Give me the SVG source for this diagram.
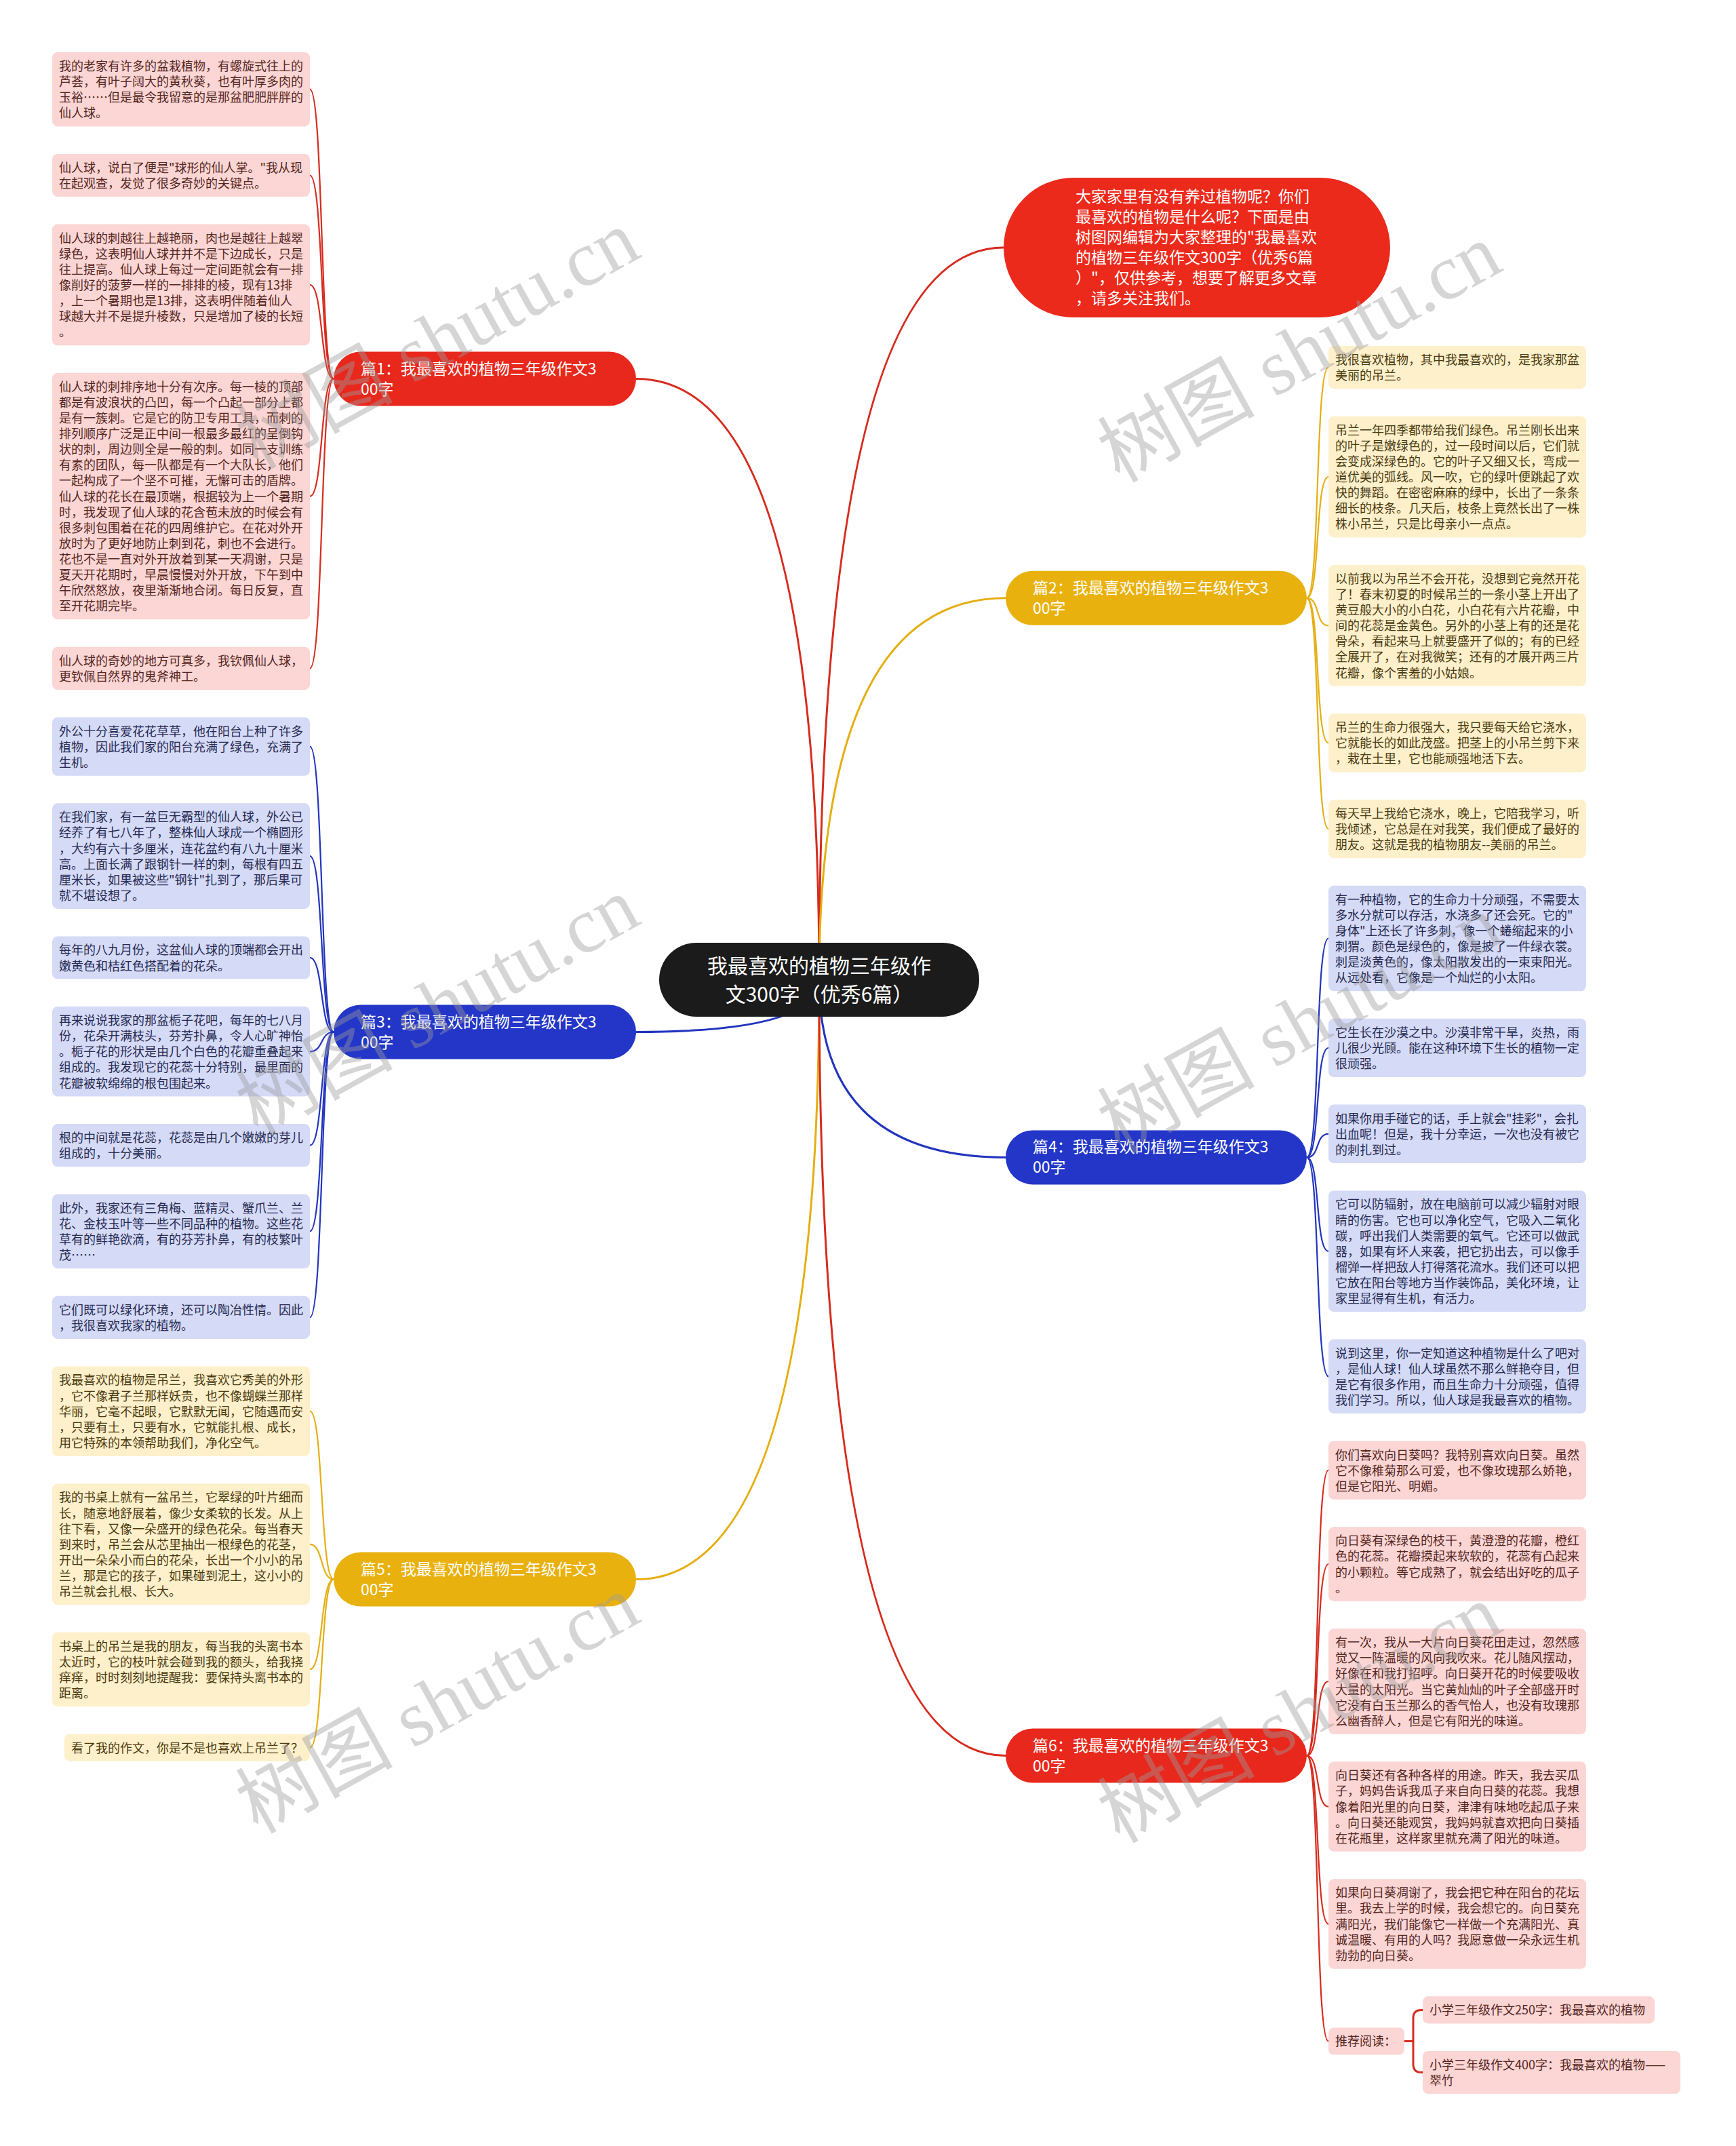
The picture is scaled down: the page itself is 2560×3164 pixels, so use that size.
<svg xmlns="http://www.w3.org/2000/svg" width="2560" height="3164" viewBox="0 0 2560 3164">
<style>
text{font-family:"Noto Sans CJK SC","Noto Sans",sans-serif;}
.leaf{font-size:18px;}
.lr{fill:#fbd6d4;} .lb{fill:#d5daf6;} .lg{fill:#fdf0cb;}
.tr{fill:#55261f;} .tb{fill:#262a52;} .tg{fill:#4a3a10;}
.br{fill:#e8281c;} .bb{fill:#2336c8;} .bg{fill:#e9b10e;}
.bt{font-size:23px;fill:#ffffff;}
.btg{font-size:23px;fill:#ffffff;}
.cr{fill:none;stroke:#d62b1e;} .cb{fill:none;stroke:#2234be;} .cg{fill:none;stroke:#e5ae12;}
.main{stroke-width:3;} .sub{stroke-width:2.2;}
.wm{font-family:"Liberation Serif","Noto Sans CJK SC",serif;font-size:116px;fill:#9a9a9a;fill-opacity:0.42;}
</style>

<g id="connectors">
  <path class="cr main" d="M1208 1444.5 Q1208 365 1480 365"/>
  <path class="cr main" d="M1208 1444.5 Q1208 558.5 938 558.5"/>
  <path class="cg main" d="M1208 1444.5 Q1208 881.8 1483 881.8"/>
  <path class="cb main" d="M1208 1444.5 Q1208 1521.5 938 1521.5"/>
  <path class="cb main" d="M1208 1444.5 Q1208 1706.4 1483 1706.4"/>
  <path class="cg main" d="M1208 1444.5 Q1208 2328.6 938 2328.6"/>
  <path class="cr main" d="M1208 1444.5 Q1208 2588.5 1483 2588.5"/>
  <path class="cr sub" d="M457 131.7 C477 131.7 472 558.5 492 558.5"/>
  <path class="cr sub" d="M457 258.5 C477 258.5 472 558.5 492 558.5"/>
  <path class="cr sub" d="M457 420 C477 420 472 558.5 492 558.5"/>
  <path class="cr sub" d="M457 731.6 C477 731.6 472 558.5 492 558.5"/>
  <path class="cr sub" d="M457 985.4 C477 985.4 472 558.5 492 558.5"/>
  <path class="cb sub" d="M457 1100.7 C477 1100.7 472 1521.5 492 1521.5"/>
  <path class="cb sub" d="M457 1262.1 C477 1262.1 472 1521.5 492 1521.5"/>
  <path class="cb sub" d="M457 1412 C477 1412 472 1521.5 492 1521.5"/>
  <path class="cb sub" d="M457 1550.4 C477 1550.4 472 1521.5 492 1521.5"/>
  <path class="cb sub" d="M457 1688.7 C477 1688.7 472 1521.5 492 1521.5"/>
  <path class="cb sub" d="M457 1815.5 C477 1815.5 472 1521.5 492 1521.5"/>
  <path class="cb sub" d="M457 1942.3 C477 1942.3 472 1521.5 492 1521.5"/>
  <path class="cg sub" d="M457 2080.7 C477 2080.7 472 2328.6 492 2328.6"/>
  <path class="cg sub" d="M457 2276.8 C477 2276.8 472 2328.6 492 2328.6"/>
  <path class="cg sub" d="M457 2461.3 C477 2461.3 472 2328.6 492 2328.6"/>
  <path class="cg sub" d="M457 2576.6 C477 2576.6 472 2328.6 492 2328.6"/>
  <path class="cg sub" d="M1927 881.8 C1947 881.8 1939 541.6 1959 541.6"/>
  <path class="cg sub" d="M1927 881.8 C1947 881.8 1939 703.1 1959 703.1"/>
  <path class="cg sub" d="M1927 881.8 C1947 881.8 1939 922.3 1959 922.3"/>
  <path class="cg sub" d="M1927 881.8 C1947 881.8 1939 1095.3 1959 1095.3"/>
  <path class="cg sub" d="M1927 881.8 C1947 881.8 1939 1222.1 1959 1222.1"/>
  <path class="cb sub" d="M1927 1706.4 C1947 1706.4 1939 1383.5 1959 1383.5"/>
  <path class="cb sub" d="M1927 1706.4 C1947 1706.4 1939 1545 1959 1545"/>
  <path class="cb sub" d="M1927 1706.4 C1947 1706.4 1939 1671.8 1959 1671.8"/>
  <path class="cb sub" d="M1927 1706.4 C1947 1706.4 1939 1844.8 1959 1844.8"/>
  <path class="cb sub" d="M1927 1706.4 C1947 1706.4 1939 2029.3 1959 2029.3"/>
  <path class="cr sub" d="M1927 2588.5 C1947 2588.5 1939 2167.7 1959 2167.7"/>
  <path class="cr sub" d="M1927 2588.5 C1947 2588.5 1939 2306 1959 2306"/>
  <path class="cr sub" d="M1927 2588.5 C1947 2588.5 1939 2479 1959 2479"/>
  <path class="cr sub" d="M1927 2588.5 C1947 2588.5 1939 2663.6 1959 2663.6"/>
  <path class="cr sub" d="M1927 2588.5 C1947 2588.5 1939 2836.6 1959 2836.6"/>
  <path class="cr sub" d="M1927 2588.5 C1947 2588.5 1939 3009.4 1959 3009.4"/>
  <path class="cr main" d="M2071 3009.4 H2084 M2084 3009.4 V2975.4 Q2084 2963.4 2096 2963.4 H2098 M2084 3009.4 V3043.5 Q2084 3055.5 2096 3055.5 H2098"/>
</g>

<g id="root">
  <rect x="972" y="1390" width="472" height="109" rx="54.5" fill="#1b1b1b"/>
  <text x="1208" y="1434.5" text-anchor="middle" font-size="30" fill="#ffffff"><tspan x="1208">我最喜欢的植物三年级作</tspan><tspan x="1208" dy="42">文300字（优秀6篇）</tspan></text>
</g>

<g id="intro">
  <rect x="1480" y="262" width="570" height="206" rx="103" fill="#ec2a1c"/>
  <text x="1586" y="298" class="bt"><tspan x="1586">大家家里有没有养过植物呢？你们</tspan><tspan x="1586" dy="30">最喜欢的植物是什么呢？下面是由</tspan><tspan x="1586" dy="30">树图网编辑为大家整理的"我最喜欢</tspan><tspan x="1586" dy="30">的植物三年级作文300字（优秀6篇</tspan><tspan x="1586" dy="30">）"，仅供参考，想要了解更多文章</tspan><tspan x="1586" dy="30">，请多关注我们。</tspan></text>
</g>

<g id="branch1">
  <rect class="br" x="492" y="518.5" width="446" height="80" rx="40"/>
  <text x="532" y="551.5" class="bt"><tspan x="532">篇1：我最喜欢的植物三年级作文3</tspan><tspan x="532" dy="30">00字</tspan></text>
</g>
<g id="branch3">
  <rect class="bb" x="492" y="1481.5" width="446" height="80" rx="40"/>
  <text x="532" y="1514.5" class="bt"><tspan x="532">篇3：我最喜欢的植物三年级作文3</tspan><tspan x="532" dy="30">00字</tspan></text>
</g>
<g id="branch5">
  <rect class="bg" x="492" y="2288.6" width="446" height="80" rx="40"/>
  <text x="532" y="2321.6" class="btg"><tspan x="532">篇5：我最喜欢的植物三年级作文3</tspan><tspan x="532" dy="30">00字</tspan></text>
</g>
<g id="branch2">
  <rect class="bg" x="1483" y="841.8" width="444" height="80" rx="40"/>
  <text x="1523" y="874.8" class="btg"><tspan x="1523">篇2：我最喜欢的植物三年级作文3</tspan><tspan x="1523" dy="30">00字</tspan></text>
</g>
<g id="branch4">
  <rect class="bb" x="1483" y="1666.4" width="444" height="80" rx="40"/>
  <text x="1523" y="1699.4" class="bt"><tspan x="1523">篇4：我最喜欢的植物三年级作文3</tspan><tspan x="1523" dy="30">00字</tspan></text>
</g>
<g id="branch6">
  <rect class="br" x="1483" y="2548.5" width="444" height="80" rx="40"/>
  <text x="1523" y="2581.5" class="bt"><tspan x="1523">篇6：我最喜欢的植物三年级作文3</tspan><tspan x="1523" dy="30">00字</tspan></text>
</g>

<g id="l1-1"><rect class="lr" x="77" y="77" width="380" height="109.4" rx="8"/>
<text class="leaf tr" x="87" y="104"><tspan x="87">我的老家有许多的盆栽植物，有螺旋式往上的</tspan><tspan x="87" dy="23.1">芦荟，有叶子阔大的黄秋葵，也有叶厚多肉的</tspan><tspan x="87" dy="23.1">玉裕……但是最令我留意的是那盆肥肥胖胖的</tspan><tspan x="87" dy="23.1">仙人球。</tspan></text></g>
<g id="l1-2"><rect class="lr" x="77" y="226.9" width="380" height="63.2" rx="8"/>
<text class="leaf tr" x="87" y="253.9"><tspan x="87">仙人球，说白了便是"球形的仙人掌。"我从现</tspan><tspan x="87" dy="23.1">在起观查，发觉了很多奇妙的关键点。</tspan></text></g>
<g id="l1-3"><rect class="lr" x="77" y="330.6" width="380" height="178.7" rx="8"/>
<text class="leaf tr" x="87" y="357.6"><tspan x="87">仙人球的刺越往上越艳丽，肉也是越往上越翠</tspan><tspan x="87" dy="23.1">绿色，这表明仙人球并并不是下边成长，只是</tspan><tspan x="87" dy="23.1">往上提高。仙人球上每过一定间距就会有一排</tspan><tspan x="87" dy="23.1">像削好的菠萝一样的一排排的棱，现有13排</tspan><tspan x="87" dy="23.1">，上一个暑期也是13排，这表明伴随着仙人</tspan><tspan x="87" dy="23.1">球越大并不是提升棱数，只是增加了棱的长短</tspan><tspan x="87" dy="23.1">。</tspan></text></g>
<g id="l1-4"><rect class="lr" x="77" y="549.8" width="380" height="363.5" rx="8"/>
<text class="leaf tr" x="87" y="576.8"><tspan x="87">仙人球的刺排序地十分有次序。每一棱的顶部</tspan><tspan x="87" dy="23.1">都是有波浪状的凸凹，每一个凸起一部分上都</tspan><tspan x="87" dy="23.1">是有一簇刺。它是它的防卫专用工具，而刺的</tspan><tspan x="87" dy="23.1">排列顺序广泛是正中间一根最多最红的呈倒钩</tspan><tspan x="87" dy="23.1">状的刺，周边则全是一般的刺。如同一支训练</tspan><tspan x="87" dy="23.1">有素的团队，每一队都是有一个大队长，他们</tspan><tspan x="87" dy="23.1">一起构成了一个坚不可摧，无懈可击的盾牌。</tspan><tspan x="87" dy="23.1">仙人球的花长在最顶端，根据较为上一个暑期</tspan><tspan x="87" dy="23.1">时，我发现了仙人球的花含苞未放的时候会有</tspan><tspan x="87" dy="23.1">很多刺包围着在花的四周维护它。在花对外开</tspan><tspan x="87" dy="23.1">放时为了更好地防止刺到花，刺也不会进行。</tspan><tspan x="87" dy="23.1">花也不是一直对外开放着到某一天凋谢，只是</tspan><tspan x="87" dy="23.1">夏天开花期时，早晨慢慢对外开放，下午到中</tspan><tspan x="87" dy="23.1">午欣然怒放，夜里渐渐地合闭。每日反复，直</tspan><tspan x="87" dy="23.1">至开花期完毕。</tspan></text></g>
<g id="l1-5"><rect class="lr" x="77" y="953.8" width="380" height="63.2" rx="8"/>
<text class="leaf tr" x="87" y="980.8"><tspan x="87">仙人球的奇妙的地方可真多，我钦佩仙人球，</tspan><tspan x="87" dy="23.1">更钦佩自然界的鬼斧神工。</tspan></text></g>

<g id="l3-1"><rect class="lb" x="77" y="1057.5" width="380" height="86.3" rx="8"/>
<text class="leaf tb" x="87" y="1084.5"><tspan x="87">外公十分喜爱花花草草，他在阳台上种了许多</tspan><tspan x="87" dy="23.1">植物，因此我们家的阳台充满了绿色，充满了</tspan><tspan x="87" dy="23.1">生机。</tspan></text></g>
<g id="l3-2"><rect class="lb" x="77" y="1184.3" width="380" height="155.6" rx="8"/>
<text class="leaf tb" x="87" y="1211.3"><tspan x="87">在我们家，有一盆巨无霸型的仙人球，外公已</tspan><tspan x="87" dy="23.1">经养了有七八年了，整株仙人球成一个椭圆形</tspan><tspan x="87" dy="23.1">，大约有六十多厘米，连花盆约有八九十厘米</tspan><tspan x="87" dy="23.1">高。上面长满了跟钢针一样的刺，每根有四五</tspan><tspan x="87" dy="23.1">厘米长，如果被这些"钢针"扎到了，那后果可</tspan><tspan x="87" dy="23.1">就不堪设想了。</tspan></text></g>
<g id="l3-3"><rect class="lb" x="77" y="1380.4" width="380" height="63.2" rx="8"/>
<text class="leaf tb" x="87" y="1407.4"><tspan x="87">每年的八九月份，这盆仙人球的顶端都会开出</tspan><tspan x="87" dy="23.1">嫩黄色和桔红色搭配着的花朵。</tspan></text></g>
<g id="l3-4"><rect class="lb" x="77" y="1484.1" width="380" height="132.5" rx="8"/>
<text class="leaf tb" x="87" y="1511.1"><tspan x="87">再来说说我家的那盆栀子花吧，每年的七八月</tspan><tspan x="87" dy="23.1">份，花朵开满枝头，芬芳扑鼻，令人心旷神怡</tspan><tspan x="87" dy="23.1">。栀子花的形状是由几个白色的花瓣重叠起来</tspan><tspan x="87" dy="23.1">组成的。我发现它的花蕊十分特别，最里面的</tspan><tspan x="87" dy="23.1">花瓣被软绵绵的根包围起来。</tspan></text></g>
<g id="l3-5"><rect class="lb" x="77" y="1657.1" width="380" height="63.2" rx="8"/>
<text class="leaf tb" x="87" y="1684.1"><tspan x="87">根的中间就是花蕊，花蕊是由几个嫩嫩的芽儿</tspan><tspan x="87" dy="23.1">组成的，十分美丽。</tspan></text></g>
<g id="l3-6"><rect class="lb" x="77" y="1760.8" width="380" height="109.4" rx="8"/>
<text class="leaf tb" x="87" y="1787.8"><tspan x="87">此外，我家还有三角梅、蓝精灵、蟹爪兰、兰</tspan><tspan x="87" dy="23.1">花、金枝玉叶等一些不同品种的植物。这些花</tspan><tspan x="87" dy="23.1">草有的鲜艳欲滴，有的芬芳扑鼻，有的枝繁叶</tspan><tspan x="87" dy="23.1">茂……</tspan></text></g>
<g id="l3-7"><rect class="lb" x="77" y="1910.7" width="380" height="63.2" rx="8"/>
<text class="leaf tb" x="87" y="1937.7"><tspan x="87">它们既可以绿化环境，还可以陶冶性情。因此</tspan><tspan x="87" dy="23.1">，我很喜欢我家的植物。</tspan></text></g>

<g id="l5-1"><rect class="lg" x="77" y="2014.4" width="380" height="132.5" rx="8"/>
<text class="leaf tg" x="87" y="2041.4"><tspan x="87">我最喜欢的植物是吊兰，我喜欢它秀美的外形</tspan><tspan x="87" dy="23.1">，它不像君子兰那样妖贵，也不像蝴蝶兰那样</tspan><tspan x="87" dy="23.1">华丽，它毫不起眼，它默默无闻，它随遇而安</tspan><tspan x="87" dy="23.1">，只要有土，只要有水，它就能扎根、成长，</tspan><tspan x="87" dy="23.1">用它特殊的本领帮助我们，净化空气。</tspan></text></g>
<g id="l5-2"><rect class="lg" x="77" y="2187.4" width="380" height="178.7" rx="8"/>
<text class="leaf tg" x="87" y="2214.4"><tspan x="87">我的书桌上就有一盆吊兰，它翠绿的叶片细而</tspan><tspan x="87" dy="23.1">长，随意地舒展着，像少女柔软的长发。从上</tspan><tspan x="87" dy="23.1">往下看，又像一朵盛开的绿色花朵。每当春天</tspan><tspan x="87" dy="23.1">到来时，吊兰会从芯里抽出一根绿色的花茎，</tspan><tspan x="87" dy="23.1">开出一朵朵小而白的花朵，长出一个小小的吊</tspan><tspan x="87" dy="23.1">兰，那是它的孩子，如果碰到泥土，这小小的</tspan><tspan x="87" dy="23.1">吊兰就会扎根、长大。</tspan></text></g>
<g id="l5-3"><rect class="lg" x="77" y="2406.6" width="380" height="109.4" rx="8"/>
<text class="leaf tg" x="87" y="2433.6"><tspan x="87">书桌上的吊兰是我的朋友，每当我的头离书本</tspan><tspan x="87" dy="23.1">太近时，它的枝叶就会碰到我的额头，给我挠</tspan><tspan x="87" dy="23.1">痒痒，时时刻刻地提醒我：要保持头离书本的</tspan><tspan x="87" dy="23.1">距离。</tspan></text></g>
<g id="l5-4"><rect class="lg" x="95" y="2556.5" width="362" height="40.1" rx="8"/>
<text class="leaf tg" x="105" y="2583.5">看了我的作文，你是不是也喜欢上吊兰了？</text></g>

<g id="r2-1"><rect class="lg" x="1959" y="510" width="380" height="63.2" rx="8"/>
<text class="leaf tg" x="1969" y="537"><tspan x="1969">我很喜欢植物，其中我最喜欢的，是我家那盆</tspan><tspan x="1969" dy="23.1">美丽的吊兰。</tspan></text></g>
<g id="r2-2"><rect class="lg" x="1959" y="613.7" width="380" height="178.7" rx="8"/>
<text class="leaf tg" x="1969" y="640.7"><tspan x="1969">吊兰一年四季都带给我们绿色。吊兰刚长出来</tspan><tspan x="1969" dy="23.1">的叶子是嫩绿色的，过一段时间以后，它们就</tspan><tspan x="1969" dy="23.1">会变成深绿色的。它的叶子又细又长，弯成一</tspan><tspan x="1969" dy="23.1">道优美的弧线。风一吹，它的绿叶便跳起了欢</tspan><tspan x="1969" dy="23.1">快的舞蹈。在密密麻麻的绿中，长出了一条条</tspan><tspan x="1969" dy="23.1">细长的枝条。几天后，枝条上竟然长出了一株</tspan><tspan x="1969" dy="23.1">株小吊兰，只是比母亲小一点点。</tspan></text></g>
<g id="r2-3"><rect class="lg" x="1959" y="832.9" width="380" height="178.7" rx="8"/>
<text class="leaf tg" x="1969" y="859.9"><tspan x="1969">以前我以为吊兰不会开花，没想到它竟然开花</tspan><tspan x="1969" dy="23.1">了！春末初夏的时候吊兰的一条小茎上开出了</tspan><tspan x="1969" dy="23.1">黄豆般大小的小白花，小白花有六片花瓣，中</tspan><tspan x="1969" dy="23.1">间的花蕊是金黄色。另外的小茎上有的还是花</tspan><tspan x="1969" dy="23.1">骨朵，看起来马上就要盛开了似的；有的已经</tspan><tspan x="1969" dy="23.1">全展开了，在对我微笑；还有的才展开两三片</tspan><tspan x="1969" dy="23.1">花瓣，像个害羞的小姑娘。</tspan></text></g>
<g id="r2-4"><rect class="lg" x="1959" y="1052.1" width="380" height="86.3" rx="8"/>
<text class="leaf tg" x="1969" y="1079.1"><tspan x="1969">吊兰的生命力很强大，我只要每天给它浇水，</tspan><tspan x="1969" dy="23.1">它就能长的如此茂盛。把茎上的小吊兰剪下来</tspan><tspan x="1969" dy="23.1">，栽在土里，它也能顽强地活下去。</tspan></text></g>
<g id="r2-5"><rect class="lg" x="1959" y="1178.9" width="380" height="86.3" rx="8"/>
<text class="leaf tg" x="1969" y="1205.9"><tspan x="1969">每天早上我给它浇水，晚上，它陪我学习，听</tspan><tspan x="1969" dy="23.1">我倾述，它总是在对我笑，我们便成了最好的</tspan><tspan x="1969" dy="23.1">朋友。这就是我的植物朋友--美丽的吊兰。</tspan></text></g>

<g id="r4-1"><rect class="lb" x="1959" y="1305.7" width="380" height="155.6" rx="8"/>
<text class="leaf tb" x="1969" y="1332.7"><tspan x="1969">有一种植物，它的生命力十分顽强，不需要太</tspan><tspan x="1969" dy="23.1">多水分就可以存活，水浇多了还会死。它的"</tspan><tspan x="1969" dy="23.1">身体"上还长了许多刺，像一个蜷缩起来的小</tspan><tspan x="1969" dy="23.1">刺猬。颜色是绿色的，像是披了一件绿衣裳。</tspan><tspan x="1969" dy="23.1">刺是淡黄色的，像太阳散发出的一束束阳光。</tspan><tspan x="1969" dy="23.1">从远处看，它像是一个灿烂的小太阳。</tspan></text></g>
<g id="r4-2"><rect class="lb" x="1959" y="1501.8" width="380" height="86.3" rx="8"/>
<text class="leaf tb" x="1969" y="1528.8"><tspan x="1969">它生长在沙漠之中。沙漠非常干旱，炎热，雨</tspan><tspan x="1969" dy="23.1">儿很少光顾。能在这种环境下生长的植物一定</tspan><tspan x="1969" dy="23.1">很顽强。</tspan></text></g>
<g id="r4-3"><rect class="lb" x="1959" y="1628.6" width="380" height="86.3" rx="8"/>
<text class="leaf tb" x="1969" y="1655.6"><tspan x="1969">如果你用手碰它的话，手上就会"挂彩"，会扎</tspan><tspan x="1969" dy="23.1">出血呢！但是，我十分幸运，一次也没有被它</tspan><tspan x="1969" dy="23.1">的刺扎到过。</tspan></text></g>
<g id="r4-4"><rect class="lb" x="1959" y="1755.4" width="380" height="178.7" rx="8"/>
<text class="leaf tb" x="1969" y="1782.4"><tspan x="1969">它可以防辐射，放在电脑前可以减少辐射对眼</tspan><tspan x="1969" dy="23.1">睛的伤害。它也可以净化空气，它吸入二氧化</tspan><tspan x="1969" dy="23.1">碳，呼出我们人类需要的氧气。它还可以做武</tspan><tspan x="1969" dy="23.1">器，如果有坏人来袭，把它扔出去，可以像手</tspan><tspan x="1969" dy="23.1">榴弹一样把敌人打得落花流水。我们还可以把</tspan><tspan x="1969" dy="23.1">它放在阳台等地方当作装饰品，美化环境，让</tspan><tspan x="1969" dy="23.1">家里显得有生机，有活力。</tspan></text></g>
<g id="r4-5"><rect class="lb" x="1959" y="1974.6" width="380" height="109.4" rx="8"/>
<text class="leaf tb" x="1969" y="2001.6"><tspan x="1969">说到这里，你一定知道这种植物是什么了吧对</tspan><tspan x="1969" dy="23.1">，是仙人球！仙人球虽然不那么鲜艳夺目，但</tspan><tspan x="1969" dy="23.1">是它有很多作用，而且生命力十分顽强，值得</tspan><tspan x="1969" dy="23.1">我们学习。所以，仙人球是我最喜欢的植物。</tspan></text></g>

<g id="r6-1"><rect class="lr" x="1959" y="2124.5" width="380" height="86.3" rx="8"/>
<text class="leaf tr" x="1969" y="2151.5"><tspan x="1969">你们喜欢向日葵吗？我特别喜欢向日葵。虽然</tspan><tspan x="1969" dy="23.1">它不像稚菊那么可爱，也不像玫瑰那么娇艳，</tspan><tspan x="1969" dy="23.1">但是它阳光、明媚。</tspan></text></g>
<g id="r6-2"><rect class="lr" x="1959" y="2251.3" width="380" height="109.4" rx="8"/>
<text class="leaf tr" x="1969" y="2278.3"><tspan x="1969">向日葵有深绿色的枝干，黄澄澄的花瓣，橙红</tspan><tspan x="1969" dy="23.1">色的花蕊。花瓣摸起来软软的，花蕊有凸起来</tspan><tspan x="1969" dy="23.1">的小颗粒。等它成熟了，就会结出好吃的瓜子</tspan><tspan x="1969" dy="23.1">。</tspan></text></g>
<g id="r6-3"><rect class="lr" x="1959" y="2401.2" width="380" height="155.6" rx="8"/>
<text class="leaf tr" x="1969" y="2428.2"><tspan x="1969">有一次，我从一大片向日葵花田走过，忽然感</tspan><tspan x="1969" dy="23.1">觉又一阵温暖的风向我吹来。花儿随风摆动，</tspan><tspan x="1969" dy="23.1">好像在和我打招呼。向日葵开花的时候要吸收</tspan><tspan x="1969" dy="23.1">大量的太阳光。当它黄灿灿的叶子全部盛开时</tspan><tspan x="1969" dy="23.1">它没有白玉兰那么的香气怡人，也没有玫瑰那</tspan><tspan x="1969" dy="23.1">么幽香醉人，但是它有阳光的味道。</tspan></text></g>
<g id="r6-4"><rect class="lr" x="1959" y="2597.3" width="380" height="132.5" rx="8"/>
<text class="leaf tr" x="1969" y="2624.3"><tspan x="1969">向日葵还有各种各样的用途。昨天，我去买瓜</tspan><tspan x="1969" dy="23.1">子，妈妈告诉我瓜子来自向日葵的花蕊。我想</tspan><tspan x="1969" dy="23.1">像着阳光里的向日葵，津津有味地吃起瓜子来</tspan><tspan x="1969" dy="23.1">。向日葵还能观赏，我妈妈就喜欢把向日葵插</tspan><tspan x="1969" dy="23.1">在花瓶里，这样家里就充满了阳光的味道。</tspan></text></g>
<g id="r6-5"><rect class="lr" x="1959" y="2770.3" width="380" height="132.5" rx="8"/>
<text class="leaf tr" x="1969" y="2797.3"><tspan x="1969">如果向日葵凋谢了，我会把它种在阳台的花坛</tspan><tspan x="1969" dy="23.1">里。我去上学的时候，我会想它的。向日葵充</tspan><tspan x="1969" dy="23.1">满阳光，我们能像它一样做一个充满阳光、真</tspan><tspan x="1969" dy="23.1">诚温暖、有用的人吗？我愿意做一朵永远生机</tspan><tspan x="1969" dy="23.1">勃勃的向日葵。</tspan></text></g>
<g id="r6-6"><rect class="lr" x="1959" y="2989.4" width="112" height="40.1" rx="8"/>
<text class="leaf tr" x="1969" y="3016.4">推荐阅读：</text></g>
<g id="rec-1"><rect class="lr" x="2098" y="2943.3" width="342" height="40.1" rx="8"/>
<text class="leaf tr" x="2108" y="2970.3">小学三年级作文250字：我最喜欢的植物</text></g>
<g id="rec-2"><rect class="lr" x="2098" y="3023.9" width="380" height="63.2" rx="8"/>
<text class="leaf tr" x="2108" y="3050.9"><tspan x="2108">小学三年级作文400字：我最喜欢的植物——</tspan><tspan x="2108" dy="23.1">翠竹</tspan></text></g>

<g id="watermarks">
  <text class="wm" x="645" y="540" text-anchor="middle" transform="rotate(-29 645 500)">树图 shutu.cn</text>
  <text class="wm" x="1916" y="560" text-anchor="middle" transform="rotate(-29 1916 520)">树图 shutu.cn</text>
  <text class="wm" x="645" y="1523" text-anchor="middle" transform="rotate(-29 645 1483)">树图 shutu.cn</text>
  <text class="wm" x="1916" y="1549" text-anchor="middle" transform="rotate(-29 1916 1509)">树图 shutu.cn</text>
  <text class="wm" x="645" y="2552" text-anchor="middle" transform="rotate(-29 645 2512)">树图 shutu.cn</text>
  <text class="wm" x="1916" y="2566" text-anchor="middle" transform="rotate(-29 1916 2526)">树图 shutu.cn</text>
</g>
</svg>
